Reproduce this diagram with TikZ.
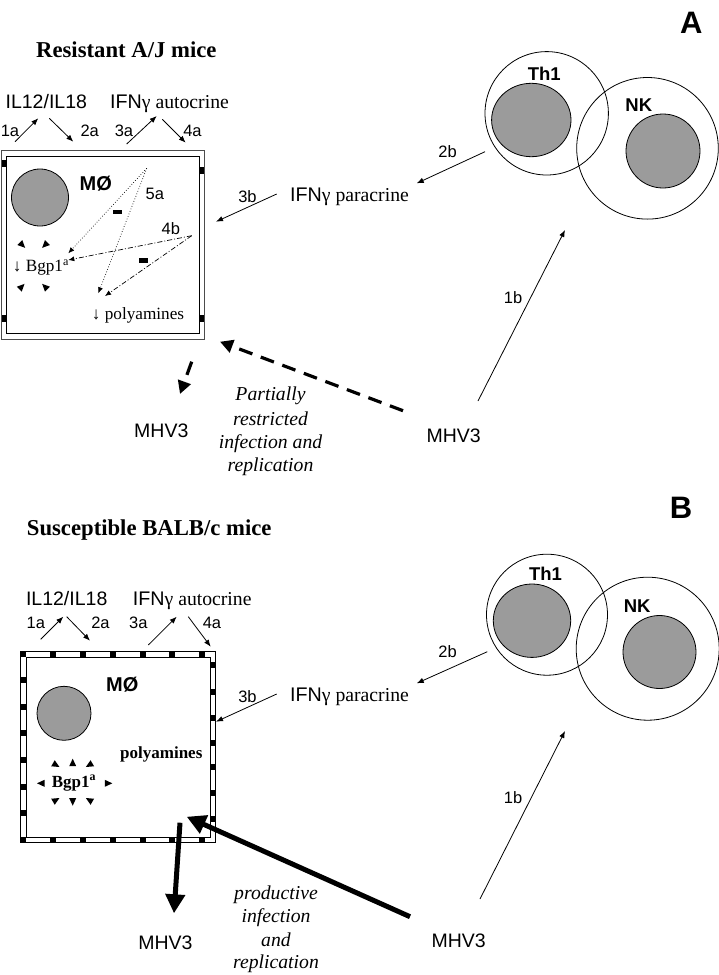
\documentclass[tikz,border=0pt]{standalone}
\usepackage{fontspec}
\setmainfont{Liberation Serif}
\newfontfamily\hv{Liberation Sans}
\usetikzlibrary{arrows.meta,shapes.geometric}
\definecolor{nuc}{RGB}{155,155,155}
\begin{document}
\begin{tikzpicture}[x=1pt,y=-1pt,
  title/.style={font=\bfseries\fontsize{22.7}{27}\selectfont,inner sep=0pt,anchor=base west},
  panel/.style={font=\hv\bfseries\fontsize{31}{36}\selectfont,inner sep=0pt},
  hvbig/.style={font=\hv\fontsize{19.5}{23}\selectfont,inner sep=0pt},
  mix/.style={font=\fontsize{19.7}{23.5}\selectfont,inner sep=0pt},
  ital/.style={font=\itshape\fontsize{19.7}{23.5}\selectfont,inner sep=0pt,anchor=base},
  lbl/.style={font=\hv\fontsize{16.5}{20}\selectfont,inner sep=0pt},
  cellname/.style={font=\hv\bfseries\fontsize{18.5}{22}\selectfont,inner sep=0pt},
  mo/.style={font=\hv\bfseries\fontsize{20}{24}\selectfont,inner sep=0pt},
  small/.style={font=\fontsize{17.2}{20}\selectfont,inner sep=0pt,anchor=base west},
  smallbf/.style={font=\bfseries\fontsize{17}{20}\selectfont,inner sep=0pt,anchor=base west},
  cell/.style={circle,draw,line width=0.8pt,inner sep=0pt},
  nucleus/.style={ellipse,draw,fill=nuc,line width=0.8pt,inner sep=0pt},
  arr/.style={-{Latex[length=7pt,width=5.5pt]},line width=0.8pt},
  dotarr/.style={-{Latex[length=6pt,width=5pt]},line width=0.7pt,dotted},
  dasharr/.style={-{Latex[length=6pt,width=5pt]},line width=0.7pt,dash pattern=on 5pt off 2pt on 1pt off 2pt},
  bigdash/.style={-{Triangle[length=13pt,width=13pt]},line width=3.2pt,dash pattern=on 14pt off 9pt},
  thick arr/.style={-{Triangle[length=19pt,width=19pt]},line width=5pt},
  sq/.style={fill=black}
]
\useasboundingbox (0,0) rectangle (719,975);
\fill[white] (0,0) rectangle (719,975);

% ================= PANEL A =================
\node[title] (titA) at (36,57) {Resistant A/J mice};
\node[panel] (labA) at (691.3,22.5) {A};

\node[hvbig,anchor=base] (ilA) at (46.3,108.3) {IL12/IL18};
\node[mix,anchor=base west] (ifnA) at (110,108.3) {{\hv IFN}γ autocrine};
\node[lbl] (l1aA) at (10,131) {1a};
\node[lbl] (l2aA) at (89.7,131) {2a};
\node[lbl] (l3aA) at (124,131) {3a};
\node[lbl] (l4aA) at (192.5,131) {4a};
\coordinate (a1sA) at (15,141.7);   \coordinate (a1eA) at (38.3,118.3);
\coordinate (a2sA) at (49.3,118.3); \coordinate (a2eA) at (73.3,141.7);
\coordinate (a3sA) at (126.7,144);  \coordinate (a3eA) at (156.7,116);
\coordinate (a4sA) at (162.3,119.3);\coordinate (a4eA) at (185.7,142.7);
\draw[arr] (a1sA) -- (a1eA);
\draw[arr] (a2sA) -- (a2eA);
\draw[arr] (a3sA) -- (a3eA);
\draw[arr] (a4sA) -- (a4eA);

% macrophage box A
\draw[line width=0.8pt,black!70] (1.7,150) rectangle (204,339);
\draw[line width=0.8pt] (6,156) rectangle (199.3,333.3);
\fill[sq] (1.7,160) rectangle (6.5,167.3);
\fill[sq] (1.7,315) rectangle (6.5,322.3);
\fill[sq] (199,167.3) rectangle (204,174);
\fill[sq] (199,315) rectangle (204,322.3);
\node[nucleus,minimum width=57pt,minimum height=57pt] (nucA) at (40,197.5) {};
\node[mo] (moA) at (95.8,183.3) {MØ};
\node[lbl] (l5aA) at (154.8,194) {5a};
\node[lbl] (l4bA) at (170.8,229) {4b};
\fill (112.7,210) rectangle (122,214.2);
\fill (139.3,258.3) rectangle (148,262.5);
\node[small] (bgpA) at (12.7,271.7) {↓ Bgp1\textsuperscript{a}};
\node[small] (polyA) at (91.7,319.3) {↓ polyamines};
\coordinate (s5aA) at (146.7,168.3);
\coordinate (e5a1A) at (68.3,253.3);
\coordinate (e5a2A) at (98.3,293.3);
\coordinate (s4bA) at (191.7,235.7);
\coordinate (e4b1A) at (68.3,260);
\coordinate (e4b2A) at (105,296);
\draw[dotarr] (s5aA) -- (e5a1A);
\draw[dotarr] (s5aA) -- (e5a2A);
\draw[dasharr] (s4bA) -- (e4b1A);
\draw[dasharr] (s4bA) -- (e4b2A);
\foreach \x/\y/\a in {22.3/245/-45, 45/245/-135, 21.7/286.7/45, 45/286.7/135}
  \fill[shift={(\x,\y)},rotate=\a] (4,0) -- (-3.5,3.5) -- (-3.5,-3.5) -- cycle;

% right part A
\node[cell,minimum size=123.4pt] (th1A) at (546.7,113.3) {};
\node[cell,minimum size=141.6pt] (nkA) at (647.5,148.3) {};
\node[nucleus,minimum width=79.4pt,minimum height=73.4pt] (th1nA) at (531.3,120) {};
\node[nucleus,minimum width=74pt,minimum height=74pt] (nknA) at (663,151) {};
\node[cellname] (th1lA) at (544.2,74.2) {Th1};
\node[cellname] (nklA) at (638.8,105) {NK};
\node[mix,anchor=base west] (parA) at (290,201.7) {{\hv IFN}γ paracrine};
\node[lbl] (l2bA) at (447.5,151.7) {2b};
\node[lbl] (l3bA) at (247.5,196.7) {3b};
\node[lbl] (l1bA) at (513,298) {1b};
\coordinate (b2sA) at (485,151.7);  \coordinate (b2eA) at (416.7,183.3);
\coordinate (b3sA) at (276.7,194);  \coordinate (b3eA) at (216,221.7);
\coordinate (b1sA) at (478,401);    \coordinate (b1eA) at (565,230);
\draw[arr] (b2sA) -- (b2eA);
\draw[arr] (b3sA) -- (b3eA);
\draw[arr] (b1sA) -- (b1eA);

% bottom A
\node[hvbig] (mhvlA) at (161.3,430.8) {MHV3};
\node[hvbig] (mhvrA) at (453.7,435.8) {MHV3};
\node[ital] (pA1) at (270.5,400.7) {Partially};
\node[ital] (pA2) at (270.5,425) {restricted};
\node[ital] (pA3) at (270.5,448.3) {infection and};
\node[ital] (pA4) at (270.5,471.7) {replication};
\coordinate (dsA) at (191.7,361.7); \coordinate (deA) at (180,394);
\coordinate (insA) at (403,410.7);  \coordinate (ineA) at (220,341.7);
\draw[bigdash] (dsA) -- (deA);
\draw[bigdash] (insA) -- (ineA);

% ================= PANEL B =================
\node[title] (titB) at (26.7,535) {Susceptible BALB/c mice};
\node[panel] (labB) at (681,507.5) {B};

\node[hvbig,anchor=base] (ilB) at (66.7,605) {IL12/IL18};
\node[mix,anchor=base west] (ifnB) at (132.7,605) {{\hv IFN}γ autocrine};
\node[lbl] (l1aB) at (35.8,623.3) {1a};
\node[lbl] (l2aB) at (100.5,623.3) {2a};
\node[lbl] (l3aB) at (138.3,623.3) {3a};
\node[lbl] (l4aB) at (212,623.3) {4a};
\coordinate (a1sB) at (40.7,639.3);  \coordinate (a1eB) at (63.3,616.7);
\coordinate (a2sB) at (66.7,616.7);  \coordinate (a2eB) at (90,640.7);
\coordinate (a3sB) at (148.3,645);   \coordinate (a3eB) at (176.7,616.7);
\coordinate (a4sB) at (188.3,616.7); \coordinate (a4eB) at (210.7,646.7);
\draw[arr] (a1sB) -- (a1eB);
\draw[arr] (a2sB) -- (a2eB);
\draw[arr] (a3sB) -- (a3eB);
\draw[arr] (a4sB) -- (a4eB);

% macrophage box B
\draw[line width=0.9pt] (20,651.7) rectangle (215,842.7);
\draw[line width=0.9pt] (26,657.3) rectangle (210,837);
\foreach \x in {22.7,52.7,82.7,112.7,142.7,171.7,201.7} {
  \fill[sq] (\x-3,651.7) rectangle (\x+3,657.3);
  \fill[sq] (\x-3,837) rectangle (\x+3,842.7);
}
\foreach \y in {680,706.7,733,760,786.7,813.3}
  \fill[sq] (20,\y-3) rectangle (26,\y+3);
\foreach \y in {665,691.7,718,743,766.7,793,819}
  \fill[sq] (210,\y-3) rectangle (215,\y+3);
\node[nucleus,minimum width=54pt,minimum height=54pt] (nucB) at (64,713.3) {};
\node[mo] (moB) at (122.2,685) {MØ};
\node[smallbf] (polyB) at (120,758.3) {polyamines};
\node[smallbf] (bgpB) at (51.7,787) {Bgp1\textsuperscript{a}};
\foreach \x/\y/\a in {56/765/-30, 72.7/762.7/90, 89.3/765/-150, 41/783.3/180, 108.3/783.3/0, 56/800/30, 72.7/801.7/-90, 89.3/800/150}
  \fill[shift={(\x,\y)},rotate=\a] (4,0) -- (-3.5,3.5) -- (-3.5,-3.5) -- cycle;

% right part B
\node[cell,minimum size=121pt] (th1B) at (547,614.7) {};
\node[cell,minimum size=143pt] (nkB) at (647.7,648.7) {};
\node[nucleus,minimum width=77.4pt,minimum height=73.4pt] (th1nB) at (532,620.7) {};
\node[nucleus,minimum width=73pt,minimum height=73pt] (nknB) at (659.5,652) {};
\node[cellname] (th1lB) at (545.5,574) {Th1};
\node[cellname] (nklB) at (637.2,606) {NK};
\node[mix,anchor=base west] (parB) at (290,701.7) {{\hv IFN}γ paracrine};
\node[lbl] (l2bB) at (447.5,651.7) {2b};
\node[lbl] (l3bB) at (247.5,696.7) {3b};
\node[lbl] (l1bB) at (513,798) {1b};
\coordinate (b2sB) at (487.3,651.7); \coordinate (b2eB) at (416.7,683.3);
\coordinate (b3sB) at (276.7,694);   \coordinate (b3eB) at (216,721.7);
\coordinate (b1sB) at (480,899);     \coordinate (b1eB) at (565,731);
\draw[arr] (b2sB) -- (b2eB);
\draw[arr] (b3sB) -- (b3eB);
\draw[arr] (b1sB) -- (b1eB);

% bottom B
\node[hvbig] (mhvlB) at (165.5,942.5) {MHV3};
\node[hvbig] (mhvrB) at (458.7,940.8) {MHV3};
\node[ital] (pB1) at (276,899.3) {productive};
\node[ital] (pB2) at (276,922.7) {infection};
\node[ital] (pB3) at (276,946) {and};
\node[ital] (pB4) at (276,968.3) {replication};
\coordinate (dsB) at (180,822.7);  \coordinate (deB) at (174,913.3);
\coordinate (insB) at (410,916.7); \coordinate (ineB) at (186.7,816.7);
\draw[thick arr] (dsB) -- (deB);
\draw[thick arr] (insB) -- (ineB);
\end{tikzpicture}
\end{document}
